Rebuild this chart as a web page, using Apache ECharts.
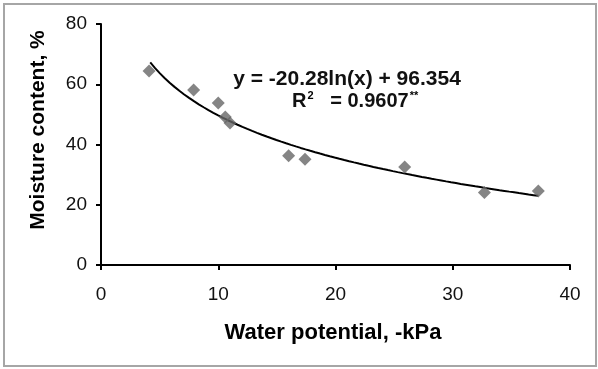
<!DOCTYPE html>
<html><head><meta charset="utf-8">
<script src="https://cdn.jsdelivr.net/npm/echarts@6/dist/echarts.min.js"></script>
<style>html,body{margin:0;padding:0;background:#fff}#c{width:598px;height:369px}</style>
</head><body><div id="c"></div>
<script>
// Observed data (water potential, -kPa vs moisture content, %)
const waterPotential = [4.1, 7.9, 10.0, 10.6, 11.0, 16.0, 17.4, 25.9, 32.7, 37.3];
const moisture = [64.4, 58.1, 53.8, 49.1, 47.1, 36.3, 35.1, 32.5, 24.1, 24.6];
// Fitted logarithmic trendline reported on the chart
const trendA = -20.28, trendB = 96.354;
const trendRange = [4.2, 37.3];
const xTicks = [0, 10, 20, 30, 40];
const yTicks = [0, 20, 40, 60, 80];
const xTitle = 'Water potential, -kPa';
const yTitle = 'Moisture content, %';
const eqText = 'y = -20.28ln(x) + 96.354';

const trend = [];
for (let i = 0; i <= 80; i++) {
  const x = trendRange[0] + (trendRange[1] - trendRange[0]) * i / 80;
  trend.push([x, trendA * Math.log(x) + trendB]);
}
const pts = waterPotential.map((x, i) => [x, moisture[i]]);

const chart = echarts.init(document.getElementById('c'));
const axisCommon = {
  axisLine: {show: true, lineStyle: {color: '#000', width: 2}},
  axisTick: {show: true, inside: false, length: 5, lineStyle: {color: '#000', width: 2}},
  splitLine: {show: false}
};
chart.setOption({
  animation: false,
  backgroundColor: '#fff',
  grid: {left: 101, right: 28, top: 24, bottom: 104, containLabel: false},
  xAxis: Object.assign({
    type: 'value', min: xTicks[0], max: xTicks[xTicks.length - 1], interval: 10,
    axisLabel: {color: '#111', fontFamily: 'Liberation Sans, Arial', fontSize: 19, margin: 20}
  }, axisCommon),
  yAxis: Object.assign({
    type: 'value', min: yTicks[0], max: yTicks[yTicks.length - 1], interval: 20,
    axisLabel: {color: '#111', fontFamily: 'Liberation Sans, Arial', fontSize: 19, margin: 14}
  }, axisCommon),
  graphic: [
    {type: 'rect', shape: {x: 4, y: 4, width: 592, height: 362}, style: {fill: 'none', stroke: '#a6a6a6', lineWidth: 2}, silent: true},
    {type: 'text', x: 333, y: 333, style: {text: xTitle, font: 'bold 22px "Liberation Sans", Arial', fill: '#000', align: 'center', verticalAlign: 'middle'}},
    {type: 'text', x: 38, y: 130, rotation: Math.PI / 2, style: {text: yTitle, font: 'bold 21px "Liberation Sans", Arial', fill: '#000', align: 'center', verticalAlign: 'middle'}},
    {type: 'text', x: 347, y: 79, style: {text: eqText, font: 'bold 21px "Liberation Sans", Arial', fill: '#111', align: 'center', verticalAlign: 'middle'}},
    {type: 'text', x: 292, y: 101, style: {
      text: '{b|R}{s|2}{b|   = 0.9607}{s|**}',
      verticalAlign: 'middle', align: 'left',
      rich: {
        b: {font: 'bold 20px "Liberation Sans", Arial', fill: '#111', color: '#111'},
        s: {font: 'bold 11px "Liberation Sans", Arial', color: '#111', verticalAlign: 'top', padding: [0, 0, 10, 1]}
      }
    }}
  ],
  series: [
    {type: 'line', data: trend, showSymbol: false, smooth: false, lineStyle: {color: '#000', width: 2}, z: 2},
    {type: 'scatter', data: pts, symbol: 'diamond', symbolSize: 13, itemStyle: {color: '#666666'}, z: 3}
  ]
});
</script></body></html>
